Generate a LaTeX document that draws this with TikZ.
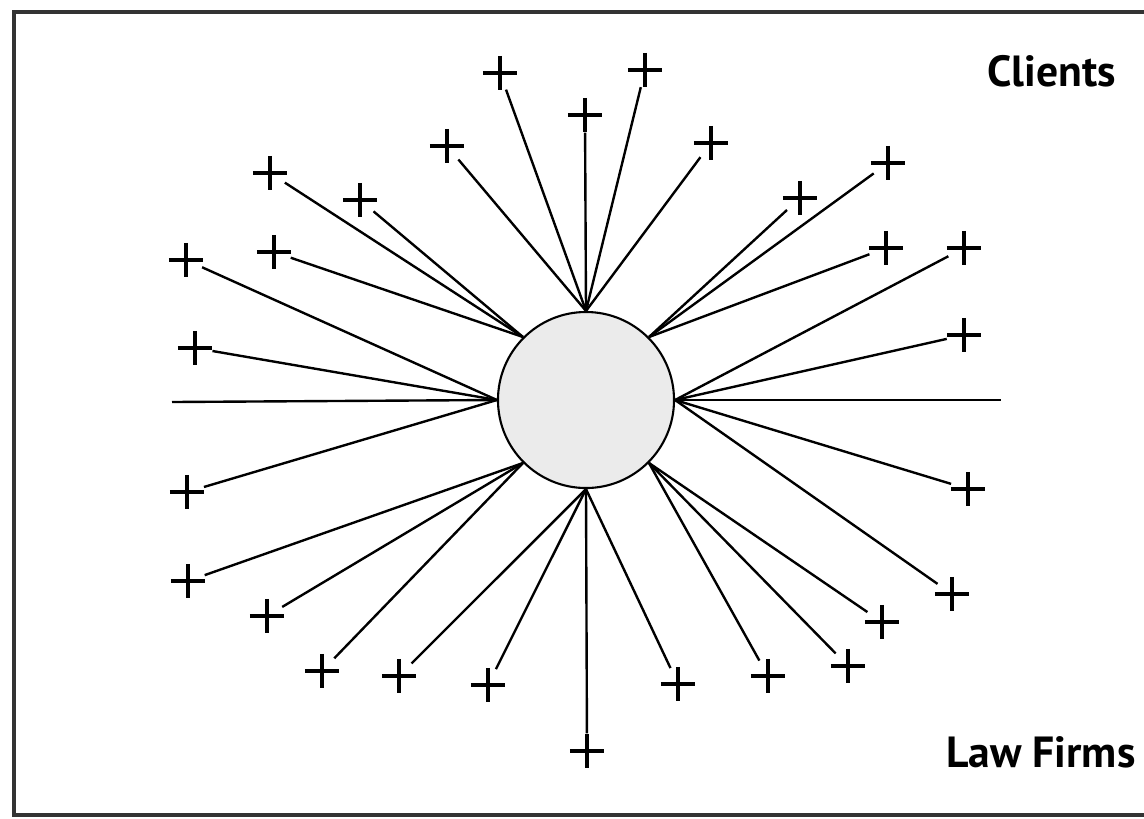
\documentclass[tikz,border=0pt]{standalone}
\usepackage{fontspec}
\setsansfont{PT Sans}

\begin{document}
\begin{tikzpicture}[x=0.025cm, y=-0.025cm,
            hub/.style={circle, draw=black, line width=1.5pt, fill=black!8,
                        minimum size=4.4cm, inner sep=0pt},
            member/.style={circle, minimum size=0.87cm, inner sep=0pt,
                        path picture={\draw[line width=2.4pt, black]
                          (path picture bounding box.north) -- (path picture bounding box.south)
                          (path picture bounding box.west) -- (path picture bounding box.east);}},
            tag/.style={anchor=base west, inner sep=0pt,
                        font=\sffamily\bfseries\fontsize{31}{36}\selectfont},
            ray/.style={line width=1.7pt, black},
            frame/.style={line width=2.4pt, black!80}]
          \useasboundingbox (0,0) rectangle (1144,818);
          \draw[frame] (1150,12) -| (14,815) -- (1150,815);

          \node[hub] (hub) at (586,400) {};

          % top
          \node[member] (n1) at (500,73) {};
          \node[member] (n2) at (645,70) {};
          \node[member] (n3) at (585,115) {};
          \node[member] (n4) at (447,146) {};
          \node[member] (n5) at (711,143) {};
          % upper left
          \node[member] (n6) at (270,173) {};
          \node[member] (n7) at (360,200) {};
          \node[member] (n8) at (274,252) {};
          % left
          \node[member] (n9) at (186,260) {};
          \node[member] (n10) at (195,348) {};
          \coordinate (w) at (172,402);
          \node[member] (n11) at (187,492) {};
          % upper right
          \node[member] (n12) at (800,198) {};
          \node[member] (n13) at (888,163) {};
          \node[member] (n14) at (886,248) {};
          % right
          \node[member] (n15) at (964,248) {};
          \node[member] (n16) at (964,335) {};
          \coordinate (e) at (1001,400);
          \node[member] (n17) at (968,489) {};
          \node[member] (n18) at (952,594) {};
          % lower right
          \node[member] (n19) at (882,622) {};
          \node[member] (n20) at (848,666) {};
          \node[member] (n21) at (768,676) {};
          % bottom
          \node[member] (n22) at (678,684) {};
          \node[member] (n23) at (587,751) {};
          \node[member] (n24) at (488,685) {};
          \node[member] (n25) at (399,676) {};
          % lower left
          \node[member] (n26) at (322,671) {};
          \node[member] (n27) at (267,616) {};
          \node[member] (n28) at (188,581) {};

          \draw[ray] (hub.90) -- (n1);
          \draw[ray] (hub.90) -- (n2);
          \draw[ray] (hub.90) -- (n3);
          \draw[ray] (hub.90) -- (n4);
          \draw[ray] (hub.90) -- (n5);
          \draw[ray] (hub.135) -- (n6);
          \draw[ray] (hub.135) -- (n7);
          \draw[ray] (hub.135) -- (n8);
          \draw[ray] (hub.180) -- (n9);
          \draw[ray] (hub.180) -- (n10);
          \draw[ray] (hub.180) -- (w);
          \draw[ray] (hub.180) -- (n11);
          \draw[ray] (hub.45) -- (n12);
          \draw[ray] (hub.45) -- (n13);
          \draw[ray] (hub.45) -- (n14);
          \draw[ray] (hub.0) -- (n15);
          \draw[ray] (hub.0) -- (n16);
          \draw[ray] (hub.0) -- (e);
          \draw[ray] (hub.0) -- (n17);
          \draw[ray] (hub.0) -- (n18);
          \draw[ray] (hub.315) -- (n19);
          \draw[ray] (hub.315) -- (n20);
          \draw[ray] (hub.315) -- (n21);
          \draw[ray] (hub.270) -- (n22);
          \draw[ray] (hub.270) -- (n23);
          \draw[ray] (hub.270) -- (n24);
          \draw[ray] (hub.270) -- (n25);
          \draw[ray] (hub.225) -- (n26);
          \draw[ray] (hub.225) -- (n27);
          \draw[ray] (hub.225) -- (n28);

          \node[tag] (clients) at (987,86) {Clients};
          \node[tag] (firms) at (946,767) {Law Firms};
        \end{tikzpicture}
\end{document}
